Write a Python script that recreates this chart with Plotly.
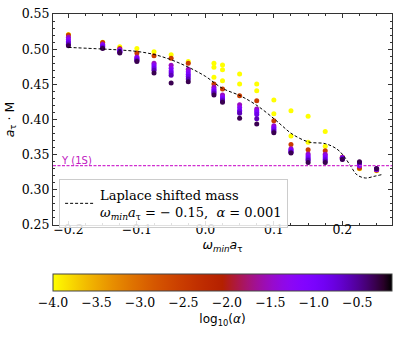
import math
import plotly.graph_objects as go

# omega_min * a_tau columns
x_cols = [-0.2, -0.15, -0.125, -0.1, -0.075, -0.05, -0.025, 0.0125, 0.025,
          0.05, 0.075, 0.1, 0.125, 0.15, 0.175, 0.2, 0.225, 0.25]

alphas = [1e-4, 3e-3, 0.03, 0.06, 0.1, 0.15, 0.25, 0.5]

# a_tau * M for each alpha, one value per column
y_a1 = [0.521, 0.510, 0.5035, 0.501, 0.4965, 0.492, 0.4825, 0.480, 0.4775,
        0.4647, 0.4505, 0.4277, 0.4125, 0.4045, 0.383, 0.3465, 0.330, 0.327]
y_a2 = [0.520, 0.5095, 0.501, 0.4945, 0.4907, 0.487, 0.480, 0.4505, 0.4434,
        0.4338, 0.4267, 0.3983, 0.3645, 0.357, 0.3556, 0.3462, 0.3306, 0.328]
y_a3 = [0.517, 0.507, 0.4995, 0.489, 0.480, 0.477, 0.4715, 0.4458, 0.4348,
        0.421, 0.415, 0.391, 0.3585, 0.351, 0.3505, 0.346, 0.334, 0.3285]
y_a4 = [0.514, 0.5055, 0.498, 0.4875, 0.4775, 0.473, 0.468, 0.443, 0.432,
        0.417, 0.4125, 0.389, 0.357, 0.3485, 0.348, 0.3455, 0.335, 0.329]
y_a5 = [0.511, 0.504, 0.497, 0.486, 0.475, 0.469, 0.4645, 0.441, 0.430,
        0.413, 0.410, 0.387, 0.3555, 0.346, 0.3455, 0.345, 0.336, 0.3295]
y_a6 = [0.509, 0.503, 0.4965, 0.485, 0.4725, 0.466, 0.461, 0.439, 0.428,
        0.411, 0.407, 0.385, 0.354, 0.344, 0.343, 0.3445, 0.337, 0.330]
y_a7 = [0.507, 0.502, 0.4955, 0.484, 0.470, 0.463, 0.4575, 0.4375, 0.4265,
        0.409, 0.401, 0.383, 0.353, 0.342, 0.341, 0.344, 0.3385, 0.330]
y_a8 = [0.505, 0.501, 0.4945, 0.4825, 0.466, 0.452, 0.4535, 0.4348, 0.4244,
        0.4017, 0.3936, 0.381, 0.3525, 0.339, 0.339, 0.343, 0.340, 0.3305]
# extra alpha = 1e-4 solutions
y_a1_b = [None, None, None, None, None, None, None, 0.4742, 0.4708,
          0.4505, 0.441, 0.408, 0.3765, 0.3675, 0.362, None, None, None]
y_a1_c = [None, None, None, None, None, None, None, 0.460, 0.4552,
          None, None, None, None, None, None, None, None, None]

# Laplace shifted mass curve
lap_x = [-0.2, -0.15, -0.1245, -0.0994, -0.0747, -0.0492, -0.0245, 0.0, 0.0247,
         0.0508, 0.0753, 0.1007, 0.1133, 0.1266, 0.151, 0.1753, 0.192, 0.2018,
         0.2118, 0.2216, 0.234, 0.2463, 0.257]
lap_y = [0.5025, 0.5002, 0.4988, 0.4967, 0.4924, 0.4846, 0.4742, 0.4614, 0.4444,
         0.4338, 0.4199, 0.4007, 0.390, 0.3794, 0.368, 0.3656, 0.358, 0.3485,
         0.3343, 0.3211, 0.3168, 0.3192, 0.3215]

upsilon = 0.3343
log_min, log_max = -4.0, -0.1
cb_ticks = [-4.0, -3.5, -3.0, -2.5, -2.0, -1.5, -1.0, -0.5]


def gnuplot_r(v):
    x = 1 - v
    r = math.sqrt(x)
    g = x ** 3
    b = max(math.sin(2 * math.pi * x), 0)
    return f"rgb({round(r*255)},{round(g*255)},{round(b*255)})"


cscale = [[i / 40, gnuplot_r(i / 40)] for i in range(41)]

serif = "DejaVu Serif"
sans = "DejaVu Sans"

fig = go.Figure()

series = [(y_a1, alphas[0]), (y_a1_b, alphas[0]), (y_a1_c, alphas[0]),
          (y_a2, alphas[1]), (y_a3, alphas[2]), (y_a4, alphas[3]),
          (y_a5, alphas[4]), (y_a6, alphas[5]), (y_a7, alphas[6]),
          (y_a8, alphas[7])]
for ys, a in series:
    fig.add_trace(go.Scatter(
        x=x_cols, y=ys, mode="markers", showlegend=False,
        marker=dict(size=5, color=[math.log10(a)] * len(ys), coloraxis="coloraxis",
                    line=dict(width=0)),
    ))

fig.add_trace(go.Scatter(
    x=lap_x, y=lap_y, mode="lines", line_shape="spline",
    line=dict(color="black", width=1, dash="3px,2px"),
    name="Laplace shifted mass<br><i>ω<sub>min</sub>a</i><sub>τ</sub> = − 0.15,  <i>α</i> = 0.001",
))

fig.add_hline(y=upsilon, line=dict(color="#d030d0", width=1.2, dash="3px,1.5px"))
fig.add_annotation(x=0, xref="paper", y=upsilon, yref="y", xanchor="left", yanchor="bottom",
                   text="Υ (1S)", showarrow=False, xshift=6, yshift=-2,
                   font=dict(family=sans, size=10, color="#c020c0"))

axis_common = dict(showline=True, linecolor="#333", linewidth=1, mirror="ticks",
                   ticks="inside", ticklen=4, tickcolor="#333", showgrid=False,
                   zeroline=False, automargin=False,
                   tickfont=dict(family=serif, size=12.5, color="black"))

fig.update_xaxes(range=[-0.2225, 0.2725], dtick=0.1, tick0=0, tickformat=".1f",
                 ticklabelstandoff=-7,
                 minor=dict(dtick=0.025, ticks="inside", ticklen=2, tickcolor="#333"),
                 title=dict(text="<i>ω<sub>min</sub>a</i><sub>τ</sub>", standoff=0,
                            font=dict(family=sans, size=12.5, color="black")),
                 **axis_common)
fig.update_yaxes(range=[0.25, 0.55], dtick=0.05, tick0=0, tickformat=".2f",
                 minor=dict(dtick=0.01, ticks="inside", ticklen=2, tickcolor="#333"),
                 title=dict(text="<i>a</i><sub>τ</sub> · M", standoff=4,
                            font=dict(family=sans, size=12.5, color="black")),
                 **axis_common)

fig.update_layout(
    width=407, height=339,
    margin=dict(l=53, r=15, t=14, b=113),
    plot_bgcolor="white", paper_bgcolor="white",
    coloraxis=dict(
        colorscale=cscale, cmin=log_min, cmax=log_max,
        colorbar=dict(
            orientation="h", x=0.5, xanchor="center", y=-0.225, yanchor="top",
            len=1, lenmode="fraction", thickness=17, xpad=0, ypad=0,
            outlinewidth=1, outlinecolor="#444",
            tickvals=cb_ticks, ticktext=[f"{v:.1f}".replace("-", "−") for v in cb_ticks],
            ticks="", ticklen=0, tickfont=dict(family=serif, size=12.5, color="black"),
            title=dict(text="log<sub>10</sub>(<i>α</i>)", side="bottom",
                       font=dict(family=sans, size=12, color="black")),
        ),
    ),
    legend=dict(x=0.018, y=0.222, xanchor="left", yanchor="top",
                bgcolor="rgba(255,255,255,0.85)", bordercolor="#cccccc", borderwidth=1,
                font=dict(family=serif, size=13, color="black"), itemwidth=30),
)

fig.write_html("out.html", config={"displayModeBar": False},
               post_script="document.body.style.margin='0';")
